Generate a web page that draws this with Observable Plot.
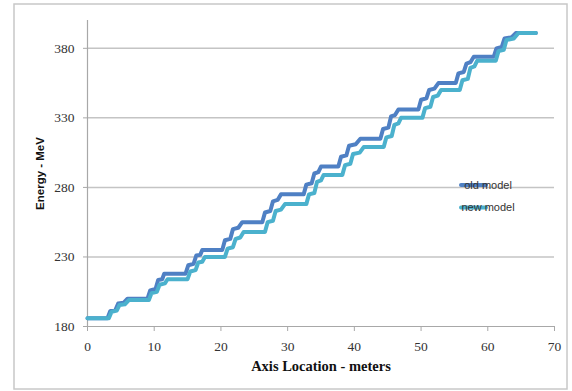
<!DOCTYPE html>
<html>
<head>
<meta charset="utf-8">
<script src="https://cdn.jsdelivr.net/npm/d3@7"></script>
<script src="https://cdn.jsdelivr.net/npm/@observablehq/plot@0.6"></script>
<style>
  html, body { margin: 0; padding: 0; background: #fff; }
  #chart { width: 572px; height: 391px; position: relative; }
</style>
</head>
<body>
<div id="chart"></div>
<script>
// ---- data ----
const seriesNames = ["old model", "new model"];
const seriesColors = ["#4f80c4", "#4bb1cd"];
const xTicks = [0, 10, 20, 30, 40, 50, 60, 70];
const yTicks = [180, 230, 280, 330, 380];

const oldX = [0, 3.0, 3.4, 4.2, 4.6, 5.4, 6.0, 9.0, 9.4, 10.2, 10.6, 11.2, 11.5, 14.7,
  15.1, 15.9, 16.3, 16.9, 17.2, 20.2, 20.6, 21.4, 21.8, 22.6, 23.2, 26.2,
  26.6, 27.4, 27.8, 28.5, 29.0, 32.4, 32.8, 33.6, 34.0, 34.6, 35.0, 37.6,
  38.0, 38.8, 39.2, 40.2, 40.9, 43.9, 44.3, 45.1, 45.5, 46.1, 46.6, 49.6,
  50.0, 50.8, 51.2, 52.0, 52.6, 55.2, 55.6, 56.4, 56.8, 57.4, 57.9, 60.9,
  61.3, 62.1, 62.5, 63.6, 64.2, 67.2];
const oldY = [186, 186, 191, 192, 196.5, 197, 200, 200, 206, 207, 213.5, 214, 218, 218,
  224, 225, 231, 231.5, 235, 235, 242, 243, 250, 251, 255, 255,
  262, 263, 270, 271, 275, 275, 282, 283, 290, 291, 295, 295,
  302, 303, 310, 311, 315, 315, 322, 323, 331, 332, 336, 336,
  343, 344, 350, 351, 355, 355, 362, 363, 369, 370, 374, 374,
  380, 381, 387, 388, 391, 391];

const newX = [0, 3.2, 3.6, 4.4, 4.8, 5.6, 6.2, 9.2, 9.6, 10.4, 10.8, 11.6, 12.0, 15.0,
  15.4, 16.2, 16.6, 17.2, 17.6, 20.6, 21.0, 21.8, 22.2, 22.9, 23.4, 26.6,
  27.0, 27.8, 28.2, 29.0, 29.6, 32.8, 33.2, 34.0, 34.4, 35.0, 35.4, 38.2,
  38.6, 39.4, 39.8, 40.8, 41.4, 44.4, 44.8, 45.6, 46.0, 46.6, 47.0, 50.2,
  50.6, 51.4, 51.8, 52.5, 53.0, 55.8, 56.2, 57.0, 57.4, 58.0, 58.4, 61.2,
  61.6, 62.4, 62.8, 63.9, 64.6, 67.2];
const newY = [186, 186, 190.5, 191.5, 195.5, 196, 199, 199, 204, 205, 210, 211, 214, 214,
  219.5, 220.5, 226, 226.5, 230, 230, 236, 237, 243, 244, 248, 248,
  255, 256, 263, 264, 268, 268, 275, 276, 284, 285, 289, 289,
  296, 297, 304, 305, 309, 309, 316, 317, 325, 326, 330, 330,
  337, 338, 345, 346, 350, 350, 357, 358, 366, 367, 371, 371,
  378, 379, 386, 387, 391, 391];

const rows = [
  ...oldX.map((x, i) => ({x, y: oldY[i], series: seriesNames[0]})),
  ...newX.map((x, i) => ({x, y: newY[i], series: seriesNames[1]}))
];

const axisGray = "#a8a8a8";
const gridGray = "#c4c4c4";
const textColor = "#333";

const plot = Plot.plot({
  width: 572,
  height: 391,
  marginLeft: 87,
  marginRight: 18,
  marginTop: 20,
  marginBottom: 65,
  style: {fontFamily: "Liberation Serif", fontSize: "13px", color: textColor, background: "transparent"},
  x: {domain: [0, 70]},
  y: {domain: [180, 400]},
  color: {domain: seriesNames, range: seriesColors},
  marks: [
    Plot.ruleY(yTicks.slice(1), {stroke: gridGray, strokeWidth: 1.5}),
    Plot.ruleX([0], {stroke: axisGray, strokeWidth: 1.2}),
    Plot.ruleY([180], {stroke: axisGray, strokeWidth: 1.2}),
    Plot.axisY({ticks: yTicks, tickSize: 4, tickPadding: 9, label: null, stroke: axisGray, fill: textColor, fontSize: 13.5}),
    Plot.axisX({ticks: xTicks, tickSize: 5, tickPadding: 10, label: null, stroke: axisGray, fill: textColor, fontSize: 13.5}),
    Plot.line(rows, {x: "x", y: "y", z: "series", stroke: "series", strokeWidth: 4, strokeLinejoin: "round", strokeLinecap: "round"}),
    Plot.text(["Axis Location - meters"], {frameAnchor: "bottom", dy: 44, fontWeight: "bold", fontSize: 14.5, fill: "#111"}),
    Plot.text(["Energy - MeV"], {frameAnchor: "left", dx: -47, rotate: -90, textAnchor: "middle", fontFamily: "Liberation Sans", fontWeight: "bold", fontSize: 11.5, fill: "#111"})
  ]
});

const svg = d3.select(plot);
// outer chart border
svg.insert("rect", ":first-child")
  .attr("x", 14).attr("y", 4).attr("width", 553).attr("height", 385)
  .attr("fill", "#fff").attr("stroke", "#c8c8c8").attr("stroke-width", 1.5);

// legend
const legend = svg.append("g").attr("font-family", "Liberation Sans").attr("font-size", 11);
seriesNames.forEach((name, i) => {
  const y = 185 + i * 22.5;
  legend.append("line").attr("x1", 461).attr("x2", 486).attr("y1", y).attr("y2", y)
    .attr("stroke", seriesColors[i]).attr("stroke-width", 4).attr("stroke-linecap", "round");
  legend.append("text").attr("x", 488).attr("y", y).attr("dy", "0.35em")
    .attr("fill", textColor).text(name);
});

document.getElementById("chart").appendChild(plot);
</script>
</body>
</html>
